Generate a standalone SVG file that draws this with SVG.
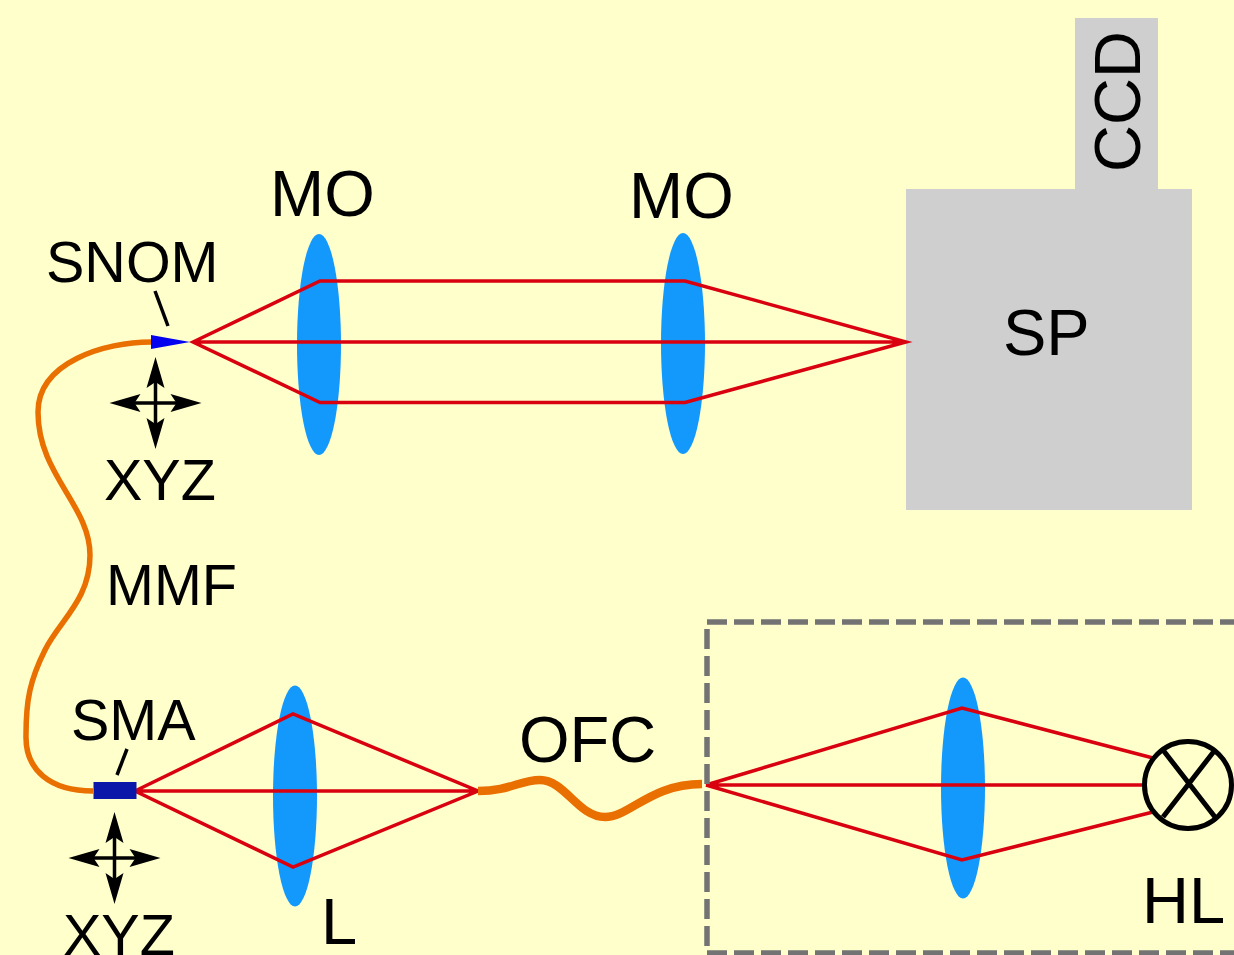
<svg xmlns="http://www.w3.org/2000/svg" width="1234" height="955" viewBox="0 0 1234 955">
<style>
text{font-family:"Liberation Sans",Arial,sans-serif;font-size:65px;fill:#000}
.small{font-size:57.500px}
.lens{fill:#1299fb}
.box{fill:#cfcfcf}
.ray{fill:none;stroke:#d90010;stroke-width:3.500;stroke-linejoin:miter}
.fib{fill:none;stroke:#e96f00;stroke-linecap:butt}
.bl{fill:none;stroke:#000;stroke-width:3.500}
.blk{fill:#000}
.bulb{fill:none;stroke:#000;stroke-width:5}
</style>
<defs>
<g id="xyz">
<path class="bl" d="M-30 0H30M0-30V30"/>
<path class="blk" d="M0-46L9-15L0-21L-9-15Z M0 46L9 15L0 21L-9 15Z M-46 0L-15-9L-21 0L-15 9Z M46 0L15-9L21 0L15 9Z"/>
</g>
</defs>
<rect width="1234" height="955" fill="#ffffcb"/>
<g id="spectrometer">
<rect class="box" x="906" y="189" width="286" height="321"/>
<text x="1003" y="355">SP</text>
</g>
<g id="ccd">
<rect class="box" x="1075" y="18" width="83" height="172"/>
<text transform="translate(1140,172) rotate(-90)">CCD</text>
</g>
<g id="lenses">
<ellipse id="mo1" class="lens" cx="319" cy="344.500" rx="22" ry="110.500"/>
<ellipse id="mo2" class="lens" cx="683" cy="343.500" rx="22" ry="110.500"/>
<ellipse id="l1" class="lens" cx="295" cy="796" rx="22" ry="110.500"/>
<ellipse id="l2" class="lens" cx="963" cy="788" rx="22" ry="110.500"/>
</g>
<g id="connectors">
<path class="ray" d="M193 342L320 281H685L906 342L685 402.500H320Z M193 342H906"/>
<path class="ray" d="M135 791L293 714L478 791L293 867Z M135 791H478"/>
<path class="ray" d="M706 785L962 708L1153 758 M706 785L962 860L1153 812 M706 785H1144"/>
<path class="fib" stroke-width="5.500" d="M151 342C105 342 38 362 38 412C38 475 90 505 90 555C90 600 60 620 45 650C30 680 26 700 26 735C25 770 50 791 93 791"/>
<path class="fib" stroke-width="8.500" d="M478 791C510 791 520 780 540 780C565 780 578 817 605 817C630 817 650 784 702 784"/>
<path class="bl" d="M155 291L168 326"/>
<path class="bl" d="M127 749L117 775"/>
</g>
<g id="snom-tip">
<path fill="#0303f0" d="M151 335L190 342L151 349Z"/>
<text class="small" x="46" y="282">SNOM</text>
</g>
<g id="sma">
<rect x="93.500" y="782" width="43" height="17" fill="#0b17a8"/>
<text class="small" x="71" y="740">SMA</text>
</g>
<g id="stage1"><use href="#xyz" x="155.500" y="403"/><text class="small" x="104" y="500">XYZ</text></g>
<g id="stage2"><use href="#xyz" x="114.500" y="858"/><text class="small" x="63" y="955">XYZ</text></g>
<g id="lamp">
<circle class="bulb" cx="1188" cy="785" r="43.500"/>
<path class="bulb" d="M1163 750L1215 817M1215 750L1163 817"/>
<text x="1142" y="923">HL</text>
</g>
<g id="housing">
<path fill="none" stroke="#737373" stroke-width="5.500" stroke-dasharray="20 7" d="M1240 622H707V953H1240"/>
</g>
<g id="labels">
<text x="270" y="216">MO</text>
<text x="629" y="218">MO</text>
<text x="106" y="605" class="small">MMF</text>
<text x="519" y="762">OFC</text>
<text x="321" y="944">L</text>
</g>
</svg>
